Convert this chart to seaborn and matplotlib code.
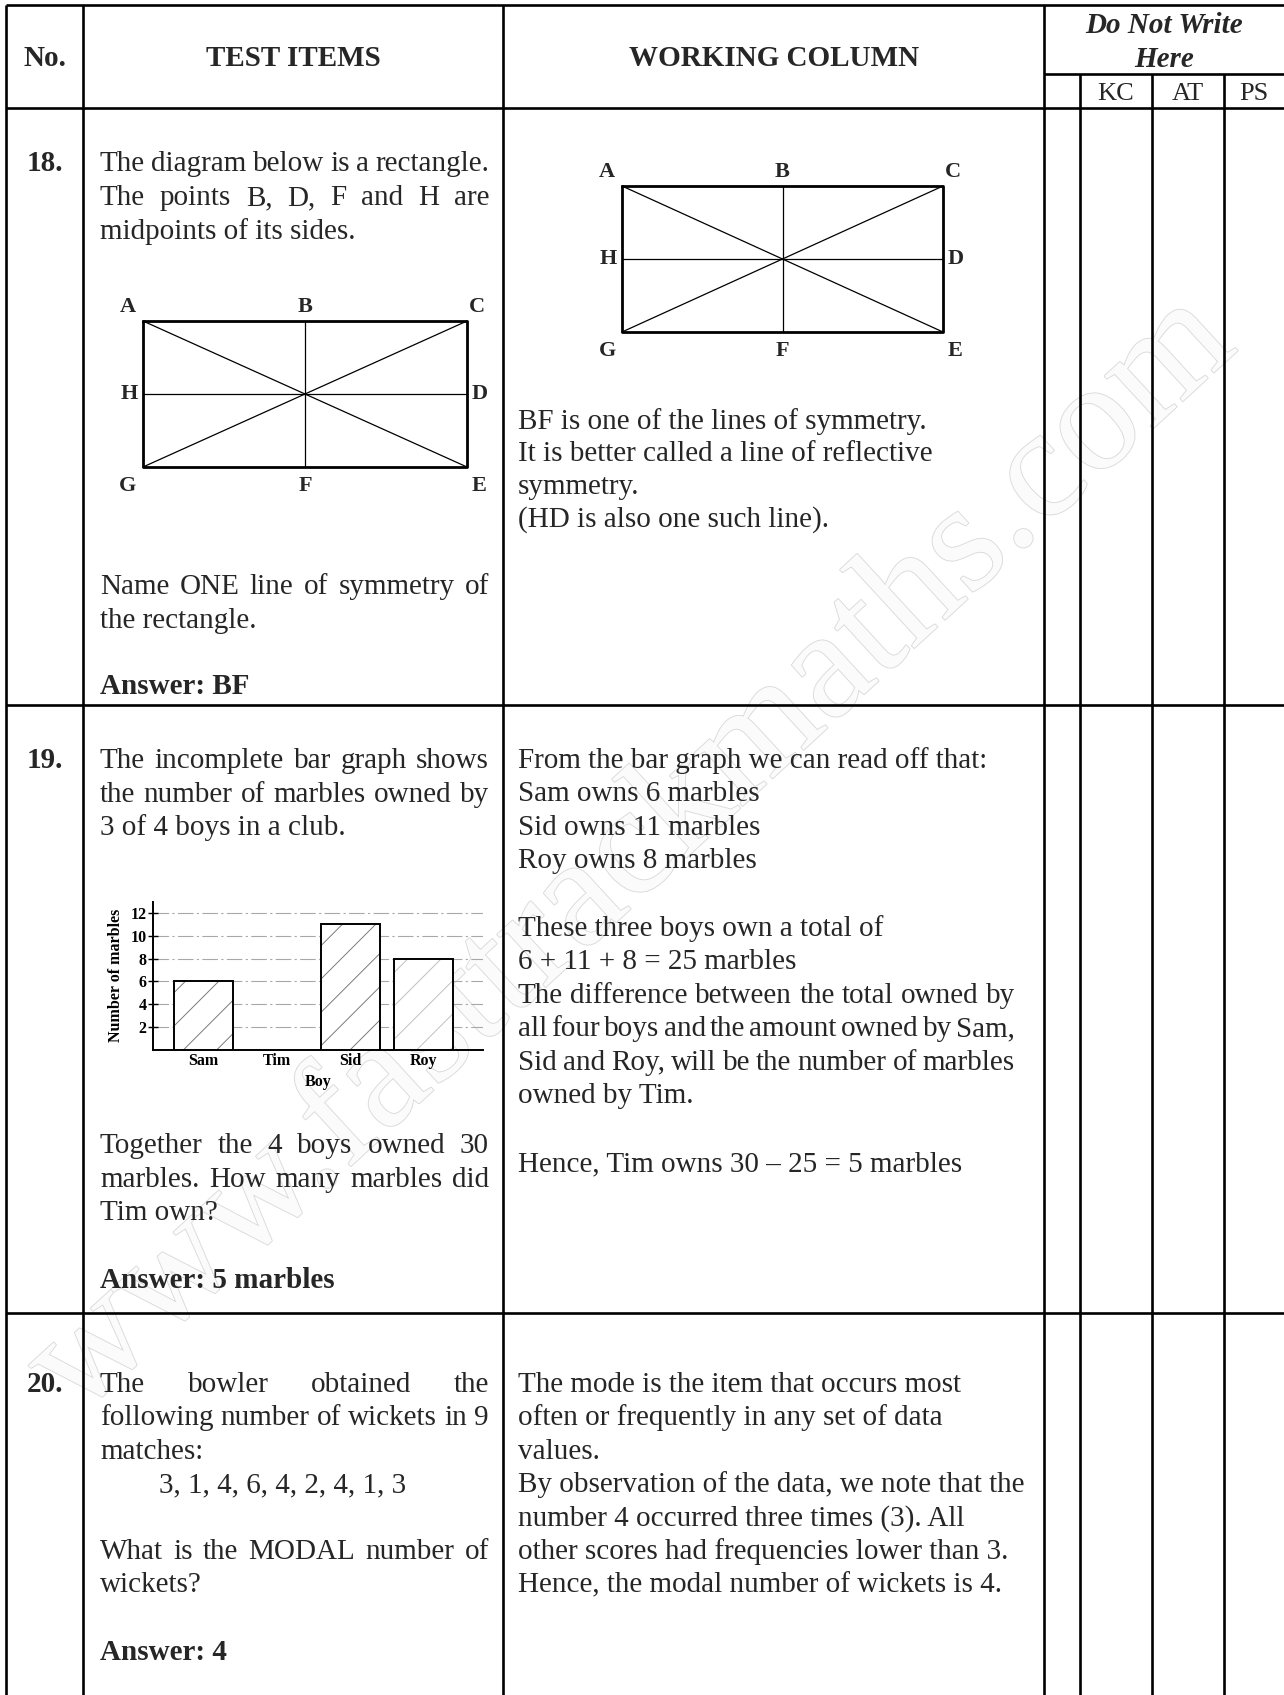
import numpy as np
import pandas as pd
import seaborn as sns
import matplotlib
matplotlib.use("Agg")
import matplotlib.pyplot as plt
import matplotlib.patheffects as pe

# ---------------- data ----------------
boys = ["Sam", "Tim", "Sid", "Roy"]
marbles = [6, np.nan, 11, 8]          # Tim's bar is missing (incomplete graph)
y_ticks = [2, 4, 6, 8, 10, 12]
hatch_colors = ["#7a7a7a", "#7a7a7a", "#c0c0c0", "#c0c0c0"]

header_cols = ["No.", "TEST ITEMS", "WORKING COLUMN"]
marks_cols = ["KC", "AT", "PS"]

q18_left = [("The diagram below is a rectangle.", True),
            ("The points B, D, F and H are", True),
            ("midpoints of its sides.", False)]
q18_left2 = [("Name ONE line of symmetry of", True), ("the rectangle.", False)]
q18_work = ["BF is one of the lines of symmetry.",
            "It is better called a line of reflective",
            "symmetry.",
            "(HD is also one such line)."]

q19_left = [("The incomplete bar graph shows", True),
            ("the number of marbles owned by", True),
            ("3 of 4 boys in a club.", False)]
q19_left2 = [("Together the 4 boys owned 30", True),
             ("marbles. How many marbles did", True),
             ("Tim own?", False)]
q19_work = [("From the bar graph we can read off that:", False),
            ("Sam owns 6 marbles", False),
            ("Sid owns 11 marbles", False),
            ("Roy owns 8 marbles", False),
            ("These three boys own a total of", False),
            ("6 + 11 + 8 = 25 marbles", False),
            ("The difference between the total owned by", True),
            ("all four boys and the amount owned by Sam,", True),
            ("Sid and Roy, will be the number of marbles", True),
            ("owned by Tim.", False),
            ("Hence, Tim owns 30 \u2013 25 = 5 marbles", False)]

q20_left = [("The bowler obtained the", True),
            ("following number of wickets in 9", True),
            ("matches:", False)]
q20_data = "3, 1, 4, 6, 4, 2, 4, 1, 3"
q20_left2 = [("What is the MODAL number of", True), ("wickets?", False)]
q20_work = ["The mode is the item that occurs most",
            "often or frequently in any set of data",
            "values.",
            "By observation of the data, we note that the",
            "number 4 occurred three times (3). All",
            "other scores had frequencies lower than 3.",
            "Hence, the modal number of wickets is 4."]

# ---------------- setup ----------------
sns.set_theme(style="white")
plt.rcParams["font.family"] = ["Liberation Serif", "DejaVu Serif"]
plt.rcParams["hatch.linewidth"] = 0.7

W, H = 1284, 1695
FS = 21
fig = plt.figure(figsize=(W / 100, H / 100), dpi=100)
bg = fig.add_axes([0, 0, 1, 1])
bg.set_xlim(0, W)
bg.set_ylim(H, 0)
bg.axis("off")
renderer = fig.canvas.get_renderer()

# watermark
bg.text(632, 856, "www.fasttrackmaths.com", rotation=42.6, rotation_mode="anchor",
        ha="center", va="center", fontsize=112, color="#fbfbfb", zorder=0,
        path_effects=[pe.withStroke(linewidth=1.3, foreground="#dadada")])

# table grid
LW = 1.9
def hline(y, x0=6, x1=W):
    bg.plot([x0, x1], [y, y], color="black", lw=LW, solid_capstyle="butt", zorder=3)
def vline(x, y0=5, y1=H):
    bg.plot([x, x], [y0, y1], color="black", lw=LW, solid_capstyle="butt", zorder=3)

hline(5); hline(108); hline(74, 1044, W); hline(705); hline(1313)
for x in [6, 83, 503, 1044]:
    vline(x)
for x in [1080, 1152, 1224]:
    vline(x, 74, H)

# text helper
def put(x, y, s, bold=False, justify=None, size=FS, ha="left", style="normal"):
    fw = "bold" if bold else "normal"
    if justify is None:
        bg.text(x, y, s, ha=ha, va="baseline", fontsize=size, fontweight=fw,
                style=style, zorder=4)
        return
    words = s.split(" ")
    ts = [bg.text(0, y, w, va="baseline", fontsize=size, fontweight=fw, zorder=4)
          for w in words]
    widths = [t.get_window_extent(renderer).width for t in ts]
    gap = (justify - x - sum(widths)) / (len(words) - 1)
    cx = x
    for t, w in zip(ts, widths):
        t.set_x(cx)
        cx += w + gap

# headers
for txt, cx in zip(header_cols, [45, 293, 774]):
    put(cx, 66, txt, bold=True, ha="center")
put(1164, 33, "Do Not Write", bold=True, ha="center", style="italic")
put(1164, 67, "Here", bold=True, ha="center", style="italic")
for txt, cx in zip(marks_cols, [1116, 1188, 1254]):
    put(cx, 100, txt, ha="center", size=19)

LX, LR = 100, 489
WX, WR = 518, 1015

# ---- Q18 ----
put(45, 171, "18.", bold=True, ha="center")
for (s, j), y in zip(q18_left, [171, 205, 239]):
    put(LX, y, s, justify=LR if j else None)
for (s, j), y in zip(q18_left2, [594, 628]):
    put(LX, y, s, justify=LR if j else None)
put(LX, 694, "Answer: BF", bold=True)
for s, y in zip(q18_work, [429, 461, 494, 527]):
    put(WX, y, s)

def rect_diagram(x0, y0, x1, y1):
    xm, ym = (x0 + x1) / 2, (y0 + y1) / 2
    bg.plot([x0, x1, x1, x0, x0], [y0, y0, y1, y1, y0], color="black", lw=2.0, zorder=3)
    for xs, ys in [([x0, x1], [y0, y1]), ([x0, x1], [y1, y0]),
                   ([xm, xm], [y0, y1]), ([x0, x1], [ym, ym])]:
        bg.plot(xs, ys, color="black", lw=0.9, zorder=3)
    lab = dict(fontsize=16, fontweight="bold", ha="center", va="center", zorder=4)
    bg.text(x0 - 15, y0 - 14, "A", **lab)
    bg.text(xm, y0 - 14, "B", **lab)
    bg.text(x1 + 10, y0 - 14, "C", **lab)
    bg.text(x0 - 14, ym, "H", **lab)
    bg.text(x1 + 13, ym, "D", **lab)
    bg.text(x0 - 15, y1 + 19, "G", **lab)
    bg.text(xm, y1 + 19, "F", **lab)
    bg.text(x1 + 12, y1 + 19, "E", **lab)

rect_diagram(143, 321, 467, 467)
rect_diagram(622, 186, 943, 332)

# ---- Q19 ----
put(45, 768, "19.", bold=True, ha="center")
for (s, j), y in zip(q19_left, [768, 802, 835]):
    put(LX, y, s, justify=LR if j else None)
for (s, j), y in zip(q19_left2, [1153, 1187, 1220]):
    put(LX, y, s, justify=LR if j else None)
put(LX, 1288, "Answer: 5 marbles", bold=True)
for (s, j), y in zip(q19_work, [768, 801, 835, 868, 936, 969, 1003, 1036, 1070, 1103, 1171]):
    put(WX, y, s, justify=WR if j else None)

# ---- Q20 ----
put(45, 1392, "20.", bold=True, ha="center")
for (s, j), y in zip(q20_left, [1392, 1425, 1459]):
    put(LX, y, s, justify=LR if j else None)
put(159, 1492, q20_data)
for (s, j), y in zip(q20_left2, [1559, 1592]):
    put(LX, y, s, justify=LR if j else None)
put(LX, 1660, "Answer: 4", bold=True)
for s, y in zip(q20_work, [1392, 1425, 1459, 1492, 1526, 1559, 1592]):
    put(WX, y, s)

# ---------------- bar chart ----------------
ax = fig.add_axes([153 / W, 1 - 1050 / H, 330 / W, 148.5 / H])
ax.set_facecolor("none")
df = pd.DataFrame({"Boy": boys, "Marbles": marbles})
sns.barplot(data=df, x="Boy", y="Marbles", order=boys, color="white",
            edgecolor="black", linewidth=1.4, width=0.8, saturation=1, ax=ax)
for bar, hc in zip(ax.patches, hatch_colors):
    bar.set_hatch("/")
    bar._hatch_color = matplotlib.colors.to_rgba(hc)
    bar.set_zorder(3)

ax.set_xlim(-0.69, 3.81)
ax.set_ylim(0, 13)
ax.set_yticks(y_ticks)
ax.yaxis.grid(True, color="#a8a8a8", lw=0.8, ls=(0, (14, 3, 2, 3)))
ax.xaxis.grid(False)
ax.set_axisbelow(True)
for side in ["top", "right"]:
    ax.spines[side].set_visible(False)
for side in ["left", "bottom"]:
    ax.spines[side].set_color("black")
    ax.spines[side].set_linewidth(1.4)
ax.tick_params(axis="y", direction="inout", length=7, width=1, labelsize=11.5,
               pad=1, colors="black", left=True)
ax.tick_params(axis="x", length=0, labelsize=11.5, pad=2, colors="black")
for lbl in ax.get_xticklabels() + ax.get_yticklabels():
    lbl.set_fontweight("bold")
ax.set_xlabel("Boy", fontsize=11.5, fontweight="bold", labelpad=4, color="black")
ax.set_ylabel("Number of marbles", fontsize=11.5, fontweight="bold", labelpad=5,
              color="black")

fig.savefig("out.png", dpi=100)
